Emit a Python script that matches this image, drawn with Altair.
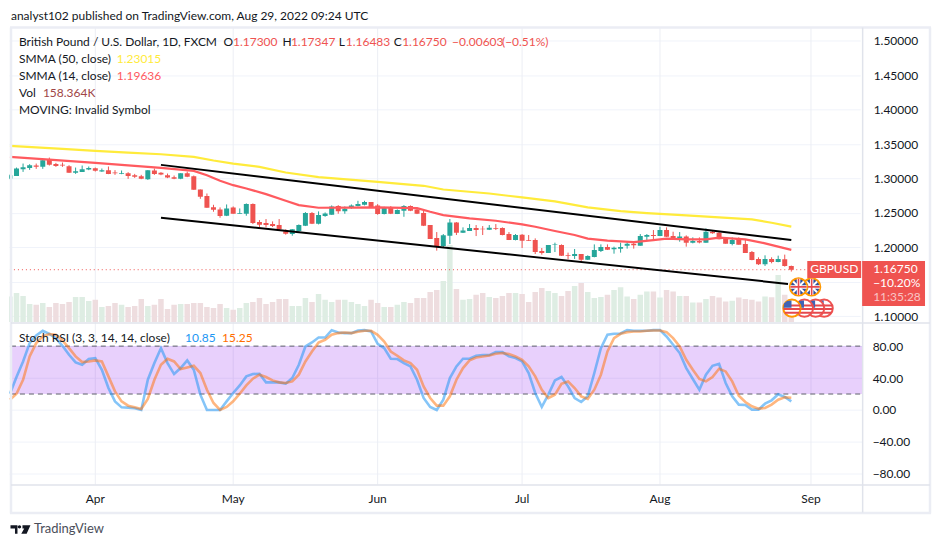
import altair as alt
import pandas as pd

FONT = "Lato"
first_bar = -13
open_ = [1.3000,1.3038,1.3135,1.3154,1.3188,1.3169,1.3280,1.3212,1.3198,1.3179,1.3082,1.3096,1.3130,1.3150,1.3101,1.3121,1.3087,1.3067,1.3077,1.3048,1.3034,1.2990,1.3116,1.3082,1.3048,1.3019,1.2995,1.3077,1.3034,1.2840,1.2744,1.2584,1.2551,1.2459,1.2580,1.2488,1.2488,1.2628,1.2367,1.2353,1.2338,1.2324,1.2232,1.2193,1.2237,1.2314,1.2497,1.2343,1.2454,1.2473,1.2599,1.2526,1.2575,1.2599,1.2618,1.2657,1.2609,1.2483,1.2575,1.2483,1.2531,1.2599,1.2551,1.2497,1.2324,1.2135,1.2019,1.2169,1.2362,1.2213,1.2237,1.2280,1.2270,1.2256,1.2280,1.2280,1.2193,1.2106,1.2184,1.2106,1.2106,1.1947,1.1918,1.2034,1.2034,1.1889,1.1874,1.1903,1.1821,1.1860,1.1947,1.2005,1.1971,1.1981,1.2024,1.2053,1.2024,1.2155,1.2179,1.2164,1.2251,1.2164,1.2130,1.2159,1.2068,1.2092,1.2068,1.2227,1.2213,1.2130,1.2048,1.2130,1.2048,1.1932,1.1831,1.1754,1.1831,1.1787,1.1826,1.1730]
high = [1.3058,1.3159,1.3217,1.3208,1.3217,1.3275,1.3304,1.3227,1.3232,1.3193,1.3159,1.3188,1.3174,1.3159,1.3145,1.3174,1.3121,1.3116,1.3092,1.3067,1.3053,1.3121,1.3145,1.3092,1.3072,1.3043,1.3077,1.3101,1.3043,1.2840,1.2782,1.2618,1.2580,1.2623,1.2594,1.2565,1.2638,1.2638,1.2396,1.2411,1.2377,1.2411,1.2261,1.2266,1.2333,1.2512,1.2512,1.2522,1.2507,1.2609,1.2613,1.2594,1.2623,1.2676,1.2676,1.2657,1.2628,1.2589,1.2599,1.2551,1.2613,1.2609,1.2570,1.2531,1.2324,1.2222,1.2193,1.2411,1.2367,1.2290,1.2338,1.2324,1.2309,1.2324,1.2338,1.2290,1.2222,1.2193,1.2193,1.2179,1.2130,1.1990,1.2034,1.2068,1.2043,1.1923,1.1976,1.1903,1.1884,1.2043,1.2043,1.2043,1.2010,1.2068,1.2082,1.2087,1.2193,1.2193,1.2251,1.2299,1.2290,1.2227,1.2222,1.2174,1.2145,1.2145,1.2275,1.2237,1.2227,1.2145,1.2145,1.2145,1.2116,1.1947,1.1855,1.1884,1.1855,1.1879,1.1894,1.17347]
low = [1.2990,1.3038,1.3096,1.3125,1.3140,1.3140,1.3188,1.3169,1.3169,1.3082,1.3067,1.3096,1.3121,1.3101,1.3096,1.3063,1.3053,1.3063,1.2995,1.3009,1.2990,1.2980,1.3053,1.3048,1.3005,1.2990,1.2990,1.3019,1.2836,1.2705,1.2575,1.2517,1.2430,1.2454,1.2488,1.2488,1.2459,1.2338,1.2290,1.2290,1.2295,1.2251,1.2184,1.2169,1.2227,1.2309,1.2338,1.2333,1.2444,1.2473,1.2488,1.2488,1.2560,1.2594,1.2609,1.2580,1.2473,1.2478,1.2483,1.2483,1.2444,1.2526,1.2483,1.2309,1.2121,1.1952,1.2000,1.2048,1.2179,1.2208,1.2237,1.2164,1.2179,1.2251,1.2251,1.2174,1.2106,1.2101,1.1990,1.2092,1.1903,1.1894,1.1918,1.1932,1.1874,1.1826,1.1831,1.1792,1.1816,1.1855,1.1932,1.1961,1.1908,1.1923,1.1981,1.1981,1.2024,1.2106,1.2097,1.2164,1.2150,1.2116,1.2082,1.2010,1.2058,1.2058,1.2068,1.2198,1.2116,1.2053,1.2029,1.2039,1.1918,1.1812,1.1744,1.1730,1.1768,1.1783,1.1720,1.16483]
close = [1.3048,1.3145,1.3164,1.3193,1.3169,1.3265,1.3198,1.3183,1.3188,1.3082,1.3106,1.3135,1.3154,1.3111,1.3121,1.3067,1.3077,1.3077,1.3038,1.3024,1.2995,1.3121,1.3067,1.3058,1.3014,1.2995,1.3077,1.3024,1.2836,1.2734,1.2575,1.2546,1.2454,1.2565,1.2488,1.2497,1.2628,1.2353,1.2328,1.2324,1.2309,1.2261,1.2198,1.2261,1.2324,1.2497,1.2343,1.2469,1.2493,1.2594,1.2526,1.2560,1.2609,1.2628,1.2657,1.2584,1.2483,1.2575,1.2488,1.2541,1.2599,1.2531,1.2488,1.2314,1.2121,1.2010,1.2174,1.2362,1.2213,1.2246,1.2280,1.2251,1.2261,1.2285,1.2270,1.2179,1.2106,1.2179,1.2097,1.2097,1.1932,1.1918,1.2034,1.2043,1.1879,1.1879,1.1903,1.1821,1.1874,1.1961,1.2005,1.1966,1.1995,1.2005,1.2053,1.2029,1.2164,1.2179,1.2164,1.2251,1.2155,1.2130,1.2159,1.2068,1.2092,1.2072,1.2227,1.2203,1.2116,1.2053,1.2106,1.2039,1.1918,1.1816,1.1754,1.1831,1.1787,1.1831,1.1730,1.1675]
volume = [198,226,203,140,133,148,117,148,140,156,195,195,164,172,117,125,148,133,117,125,179,125,133,179,101,133,140,140,148,148,117,109,140,109,94,109,148,156,187,140,156,179,179,125,125,187,156,218,172,156,172,172,156,140,125,172,148,117,117,133,156,148,187,187,234,250,320,600,257,172,179,211,226,195,187,203,226,226,218,156,234,265,242,226,203,242,281,304,234,187,195,211,250,270,198,179,211,237,237,190,250,237,203,203,151,151,179,203,190,159,166,190,179,172,159,198,192,367,211,158.364]
stoch_k = [20.4,41.3,60.8,83.8,93.3,99.2,95.4,90,80.4,69.2,59.6,56.7,63.8,65,50.4,27.5,10.8,3.3,2.9,2.1,0,37.9,58.8,77.5,58.8,45,52.5,62.1,50.4,19.2,0,0,0,10.8,21.3,30.8,42.1,45,45.4,34.6,34.6,34.6,32.9,40,56.7,79.6,84.6,90.8,90.8,100,97.1,96.3,96.3,99.6,100,98.3,82.9,77.5,64.2,63.8,58.8,54.6,37.9,15,3.8,0,12.9,40,54.6,64.2,64.2,67.9,68.8,68.8,72.5,72.5,67.1,65,60.8,46.3,21.3,3.8,19.2,37.1,41.3,29.6,15,10,17.1,46.3,77.5,94.2,95.4,95.8,100,99.2,99.2,99.2,100,100,92.1,81.7,71.3,52.5,38.8,25.4,44.2,55.4,57.9,33.8,17.1,6.7,6.3,0.4,0.4,7.9,12.1,19.6,16.3,10.85]
stoch_d = [12.9,20.4,37.9,67.1,83.8,92.1,95,94.2,87.1,77.5,67.1,60,60.8,62.1,60.8,42.1,23.3,10.8,5.4,3.3,1.3,13.8,37.9,56.7,64.2,60.8,51.3,53.3,55.4,46.3,25.4,8.8,0,3.8,10.8,20.4,30.8,39.2,44.2,41.3,37.1,34.6,33.8,35.8,44.2,60.8,73.3,84.6,87.9,94.2,96.3,97.1,96.3,97.9,99.2,99.2,94.2,85.8,73.3,67.9,62.1,58.8,50.4,29.6,15,5.4,5.4,17.1,37.9,52.5,62.1,65.8,67.1,68.3,70.4,71.3,70,67.1,62.9,54.6,42.1,25.4,15,19.2,32.9,35.8,27.5,17.1,13.8,25.4,44.2,73.3,90,95.4,97.5,98.3,98.3,99.2,99.6,99.6,97.5,90,79.6,62.9,50.4,38.8,35.8,41.3,51.7,48.3,35.8,17.9,10,4.6,1.7,2.5,6.7,12.9,15.8,15.25]

smma50_bar = [-13,-5,0,5,10,15,18,21,25,29,34,43,50,53,60,65,70,75,80,84,90,95,100,103,106]
smma50 = [1.3473,1.3430,1.3401,1.3377,1.3352,1.3314,1.3261,1.3217,1.3169,1.3087,1.3019,1.2952,1.2894,1.2840,1.2782,1.2725,1.2667,1.2580,1.2526,1.2497,1.2464,1.2435,1.2406,1.2357,1.23015]
smma14_bar = [-13,-7,0,10,15,17,19,21,23,26,29,31,34,43,49,51,53,57,61,65,67,70,73,75,78,82,85,87,90,93,95,99,102,106]
smma14 = [1.3314,1.3275,1.3227,1.3154,1.3111,1.3048,1.2966,1.2903,1.2855,1.2773,1.2676,1.2613,1.2575,1.2580,1.2570,1.2517,1.2469,1.2420,1.2386,1.2333,1.2299,1.2237,1.2179,1.2126,1.2097,1.2077,1.2106,1.2126,1.2116,1.2116,1.2140,1.2116,1.2058,1.19636]
channel_upper = [(10,1.3198),(106,1.2106)]
channel_lower = [(10,1.2430),(105.5,1.1469)]
last_price = 1.1675

month_bars = [0,21,43,65,86,109]
month_names = ["Apr","May","Jun","Jul","Aug","Sep"]
price_ticks = [1.10,1.15,1.20,1.25,1.30,1.35,1.40,1.45,1.50]
rsi_ticks = [80,40,0,-40,-80]
uk_icons = [(109.1,1.1425),(107.1,1.1425)]
us_icons = [(111,1.1116),(109.7,1.1116),(108,1.1116),(106.1,1.1116)]

n = len(open_)
for arr in (high, low, close, volume, stoch_k, stoch_d):
    assert len(arr) == n, (len(arr), n)

bars = pd.DataFrame({"bar": [first_bar + i for i in range(n)], "open": open_, "high": high, "low": low,
                     "close": close, "vol": volume, "k": stoch_k, "d": stoch_d})
bars["dir"] = ["up" if c >= o else "down" for o, c in zip(open_, close)]

GREEN, RED = "#26a69a", "#ef5350"
GRID, FRAME, SEP = "#f0f3fa", "#ebedf4", "#e0e3eb"
TXT = "#131722"

xs = alt.Scale(domain=[-12.84, 116.79], range=[2, 855], nice=False, zero=False, padding=0)
ps = alt.Scale(domain=[1.0917, 1.5193], range=[314, 19], nice=False, zero=False)
vs = alt.Scale(domain=[0, 600], range=[314, 237], nice=False, zero=False)
rs = alt.Scale(domain=[-93.4, 109.1], range=[477, 315], nice=False, zero=False)
X = lambda f="bar": alt.X(f"{f}:Q", scale=xs, axis=None)
PY = lambda f: alt.Y(f"{f}:Q", scale=ps, axis=None)
RY = lambda f: alt.Y(f"{f}:Q", scale=rs, axis=None)
cand_color = alt.condition("datum.dir == 'up'", alt.value(GREEN), alt.value(RED))
vol_color = alt.condition("datum.dir == 'up'", alt.value("#deede3"), alt.value("#eedddf"))
one = alt.Data(values=[{"a": 1}])

def text(t, px, py, color=TXT, size=12, weight="normal", align="left"):
    return alt.Chart(one).mark_text(text=t, color=color, fontSize=size, font=FONT, fontWeight=weight,
                                    align=align, baseline="middle").encode(
        x=alt.value(px - 8), y=alt.value(py - 8))

def hline(x0, x1, py, color=SEP, w=1):
    return alt.Chart(one).mark_rule(color=color, strokeWidth=w).encode(
        x=alt.value(x0 - 8), x2=alt.value(x1 - 8), y=alt.value(py - 8))

def vline(px, y0, y1, color=SEP, w=1):
    return alt.Chart(one).mark_rule(color=color, strokeWidth=w).encode(
        x=alt.value(px - 8), y=alt.value(y0 - 8), y2=alt.value(y1 - 8))

def box(x0, x1, y0, y1, color=RED):
    return alt.Chart(one).mark_rect(color=color).encode(
        x=alt.value(x0 - 8), x2=alt.value(x1 - 8), y=alt.value(y0 - 8), y2=alt.value(y1 - 8))

months = pd.DataFrame({"bar": month_bars, "name": month_names})
month_grid = alt.Chart(months).mark_rule(color="#eceef4", strokeWidth=1).encode(
    x=X(), y=alt.value(19), y2=alt.value(477))
month_labels = alt.Chart(months).mark_text(color=TXT, font=FONT, fontSize=12, baseline="middle", align="center").encode(
    x=X(), y=alt.value(491), text="name:N")

price_axis_layer = alt.Chart(pd.DataFrame({"p": [last_price], "x0": [-13], "x1": [109]})).mark_rule(
    color=RED, strokeWidth=1, strokeDash=[1, 3], clip=True).encode(
    x=X("x0"), x2="x1:Q",
    y=alt.Y("p:Q", scale=ps, axis=alt.Axis(orient="right", values=price_ticks, grid=True, gridColor=GRID,
            labelExpr="datum.value === 1.15 ? '' : format(datum.value, '.5f')",
            ticks=False, domain=False, title=None, labelColor=TXT, labelFont=FONT, labelFontSize=12,
            labelPadding=11, labelOverlap=False, labelFlush=False)))

vol = alt.Chart(bars).mark_bar(size=5.5, clip=True).encode(x=X(), y=alt.Y("vol:Q", scale=vs, axis=None), color=vol_color)
wick = alt.Chart(bars).mark_rule(strokeWidth=1, clip=True).encode(x=X(), y=PY("low"), y2="high:Q", color=cand_color)
body = alt.Chart(bars).mark_bar(size=5, clip=True).encode(x=X(), y=PY("open"), y2="close:Q", color=cand_color)

def pline(bars_, vals, color, w):
    d = pd.DataFrame({"bar": bars_, "v": vals})
    return alt.Chart(d).mark_line(color=color, strokeWidth=w, clip=True).encode(x=X(), y=PY("v"))

s50 = pline(smma50_bar, smma50, "#ffeb3b", 2.2)
s14 = pline(smma14_bar, smma14, "#ff5a5f", 2.2)
up = pline([a for a, _ in channel_upper], [b for _, b in channel_upper], "#000000", 2)
lo = pline([a for a, _ in channel_lower], [b for _, b in channel_lower], "#000000", 2)

band = alt.Chart(pd.DataFrame({"a": [80], "b": [20]})).mark_rect(color="#8c14f0", opacity=0.2).encode(
    x=alt.value(2), x2=alt.value(855),
    y=alt.Y("a:Q", scale=rs, axis=alt.Axis(orient="right", values=rsi_ticks, format=".2f", grid=True, gridColor=GRID,
            ticks=False, domain=False, title=None, labelColor=TXT, labelFont=FONT, labelFontSize=12,
            labelPadding=10, labelOverlap=False, labelFlush=False)),
    y2="b:Q")
dash = alt.Chart(pd.DataFrame({"v": [80, 20]})).mark_rule(color="#5d606b", strokeWidth=1, strokeDash=[5, 4]).encode(
    x=alt.value(2), x2=alt.value(855), y=RY("v"))
k_line = alt.Chart(bars).mark_line(color="#2196f3", strokeWidth=2.6, opacity=0.55, clip=True).encode(x=X(), y=RY("k"))
d_line = alt.Chart(bars).mark_line(color="#ff6d00", strokeWidth=2.6, opacity=0.5, clip=True).encode(x=X(), y=RY("d"))

def icons(pts, shape, size, **kw):
    d = pd.DataFrame({"bar": [a for a, _ in pts], "p": [b for _, b in pts]})
    return alt.Chart(d).mark_point(shape=shape, size=size, **kw).encode(x=X(), y=PY("p"))

icon_layers = []
for i, pt in enumerate(us_icons):
    ring = "#ff9800" if i == len(us_icons) - 1 else RED
    icon_layers += [
        icons([pt], "circle", 300, filled=True, fill="#ffffff", stroke=ring, strokeWidth=2, opacity=1),
        icons([pt], "M-.9,-.3L.9,-.3M-.95,.1L.95,.1M-.8,.5L.8,.5", 324, filled=False, stroke="#e5484d", strokeWidth=2, opacity=1),
        icons([pt], "M-.85,-.55L-.55,-.8L-.05,-.85L-.05,-.05L-.95,-.05Z", 324, filled=True, fill="#3f62b5", strokeWidth=0, opacity=1),
    ]
for i, pt in enumerate(uk_icons):
    icon_layers += [
        icons([pt], "circle", 300, filled=True, fill="#2f4f9f", stroke="#ff9800", strokeWidth=2, opacity=1),
        icons([pt], "M-.6,-.6L.6,.6M-.6,.6L.6,-.6", 324, filled=False, stroke="#ffffff", strokeWidth=2, opacity=1),
        icons([pt], "M-.9,0L.9,0M0,-.9L0,.9", 324, filled=False, stroke="#ffffff", strokeWidth=3.5, opacity=1),
        icons([pt], "M-.9,0L.9,0M0,-.9L0,.9", 324, filled=False, stroke="#e5484d", strokeWidth=1.6, opacity=1),
    ]

logo = alt.Chart(one).mark_point(
    shape="M-1,-.43L-.3,-.43L-.3,.43L-.55,.43L-.55,-.1L-1,-.1ZM-.1,-.43A.17,.17,0,1,1,-.1,-.09A.17,.17,0,1,1,-.1,-.43ZM.2,-.43L1,-.43L.62,.43L.08,.43L.38,-.1L.2,-.1Z",
    size=400, filled=True, fill="#131722", strokeWidth=0, opacity=1).encode(x=alt.value(19.5 - 8), y=alt.value(530 - 8))

R2 = RED
texts = [
    text("analyst102 published on TradingView.com, Aug 29, 2022 09:24 UTC", 10, 15),
    text("British Pound / U.S. Dollar, 1D, FXCM", 18, 42),
    text("O", 223, 42), text("1.17300", 232.5, 42, R2),
    text("H", 282, 42), text("1.17347", 290.5, 42, R2),
    text("L", 338.5, 42), text("1.16483", 345.5, 42, R2),
    text("C", 393.5, 42), text("1.16750", 402, 42, R2),
    text("\u22120.00603", 452, 42, R2), text("(\u22120.51%)", 502, 42, R2),
    text("SMMA (50, close)", 18, 59), text("1.23015", 116, 59, "#ffeb3b"),
    text("SMMA (14, close)", 18, 76), text("1.19636", 116, 76, "#ff5a5f"),
    text("Vol", 18, 93), text("158.364K", 42, 93, "#a04545"),
    text("MOVING: Invalid Symbol", 18, 110),
    text("Stoch RSI (3, 3, 14, 14, close)", 18, 338),
    text("10.85", 184.5, 338, "#2196f3"), text("15.25", 221.5, 338, "#ff6d00"),
    text("TradingView", 33, 530, "#4a4e5a", 13),
]

frame = [
    hline(9, 932, 27, FRAME, 2.5), hline(9, 932, 513.5, FRAME, 2.5),
    vline(10, 27, 514, FRAME, 2.5), vline(931, 27, 514, FRAME, 2.5),
    vline(863.5, 27, 513, SEP, 1.5), hline(10, 931, 323, SEP, 1.5), hline(10, 931, 485.5, SEP, 1.5),
]
labels = [
    box(808, 862, 261, 278), box(863, 926, 261, 306),
    text("GBPUSD", 835, 269.5, "#ffffff", 12, align="center"),
    text("1.16750", 874, 269.5, "#ffffff", 12),
    text("\u221210.20%", 874, 283.5, "#ffffff", 12),
    text("11:35:28", 874, 297.5, "#f9c5c5", 12),
]

layers = [month_grid, month_labels, vol, price_axis_layer, wick, body, s50, s14, up, lo, band, dash, k_line, d_line] + \
    frame + icon_layers + labels + texts + [logo]

chart = alt.layer(*layers).resolve_scale(y="independent", color="independent").properties(
    width=855, height=477, padding=0, background="#ffffff"
).configure_view(stroke=None).configure_axis(labelFont=FONT)

chart.save("out.html", embed_options={"renderer": "svg", "actions": False})
